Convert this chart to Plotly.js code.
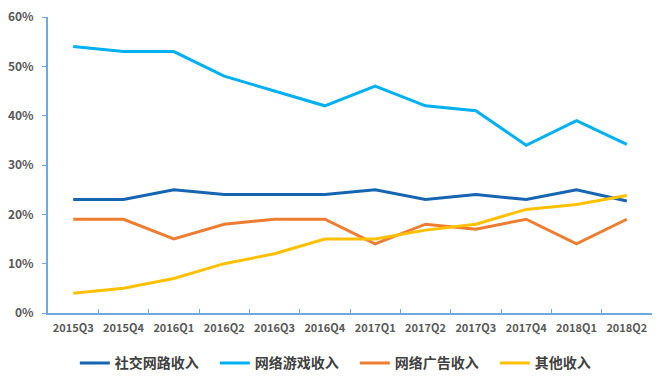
<!DOCTYPE html>
<html>
<head>
<meta charset="utf-8">
<script src="https://cdn.plot.ly/plotly-3.0.1.min.js"></script>
<style>html,body{margin:0;padding:0;background:#fff;}#chart{width:662px;height:389px;}</style>
</head>
<body>
<div id="chart"></div>
<script>
var quarters = ["2015Q3","2015Q4","2016Q1","2016Q2","2016Q3","2016Q4","2017Q1","2017Q2","2017Q3","2017Q4","2018Q1","2018Q2"];
var socialNames = "社交网路收入";
var social = [23, 23, 25, 24, 24, 24, 25, 23, 24, 23, 25, 22.7];
var gameName = "网络游戏收入";
var game = [54, 53, 53, 48, 45, 42, 46, 42, 41, 34, 39, 34.2];
var adName = "网络广告收入";
var ad = [19, 19, 15, 18, 19, 19, 14, 18, 17, 19, 14, 19];
var otherName = "其他收入";
var other = [4, 5, 7, 10, 12, 15, 15, 16.8, 18, 21, 22, 23.8];
var yTicks = [0, 10, 20, 30, 40, 50, 60];
var yTickText = ["0%","10%","20%","30%","40%","50%","60%"];

function tr(name, vals, color){
  return {x: quarters, y: vals, name: name, type: "scatter", mode: "lines",
          line: {color: color, width: 3}, hoverinfo: "skip"};
}
var data = [
  tr(socialNames, social, "#1565b0"),
  tr(gameName, game, "#00b0f0"),
  tr(adName, ad, "#ed7d31"),
  tr(otherName, other, "#ffc000")
];
var font = {family: "'Noto Sans CJK SC', 'Noto Sans', sans-serif", color: "#595959"};
var layout = {
  width: 662, height: 389,
  margin: {l: 48, r: 10, t: 17, b: 76},
  paper_bgcolor: "#fff", plot_bgcolor: "#fff",
  showlegend: true,
  font: font,
  xaxis: {
    type: "category", range: [-0.5, 11.5],
    showline: true, linecolor: "#6fa8dc", linewidth: 2,
    ticks: "inside", ticklen: 4, tickcolor: "#6fa8dc", tickwidth: 1,
    tickson: "boundaries", tickangle: 0,
    showgrid: false, zeroline: false,
    tickfont: {family: font.family, size: 11, color: "#595959", weight: "bold"},
    ticklabelstandoff: 4
  },
  yaxis: {
    range: [0, 60], tickvals: yTicks, ticktext: yTickText,
    showline: true, linecolor: "#6fa8dc", linewidth: 2,
    ticks: "outside", ticklen: 4, tickcolor: "#6fa8dc", tickwidth: 1,
    showgrid: false, zeroline: false,
    tickfont: {family: font.family, size: 12, color: "#595959", weight: "bold"},
    ticklabelstandoff: 6
  },
  legend: {
    orientation: "h", x: 0.508, xanchor: "center", y: -0.17, yanchor: "middle",
    font: {family: font.family, size: 14, color: "#404040", weight: "bold"},
    entrywidth: 95, entrywidthmode: "pixels",
    itemwidth: 30, bgcolor: "rgba(0,0,0,0)"
  }
};
Plotly.newPlot("chart", data, layout, {displayModeBar: false, staticPlot: true});
</script>
</body>
</html>
